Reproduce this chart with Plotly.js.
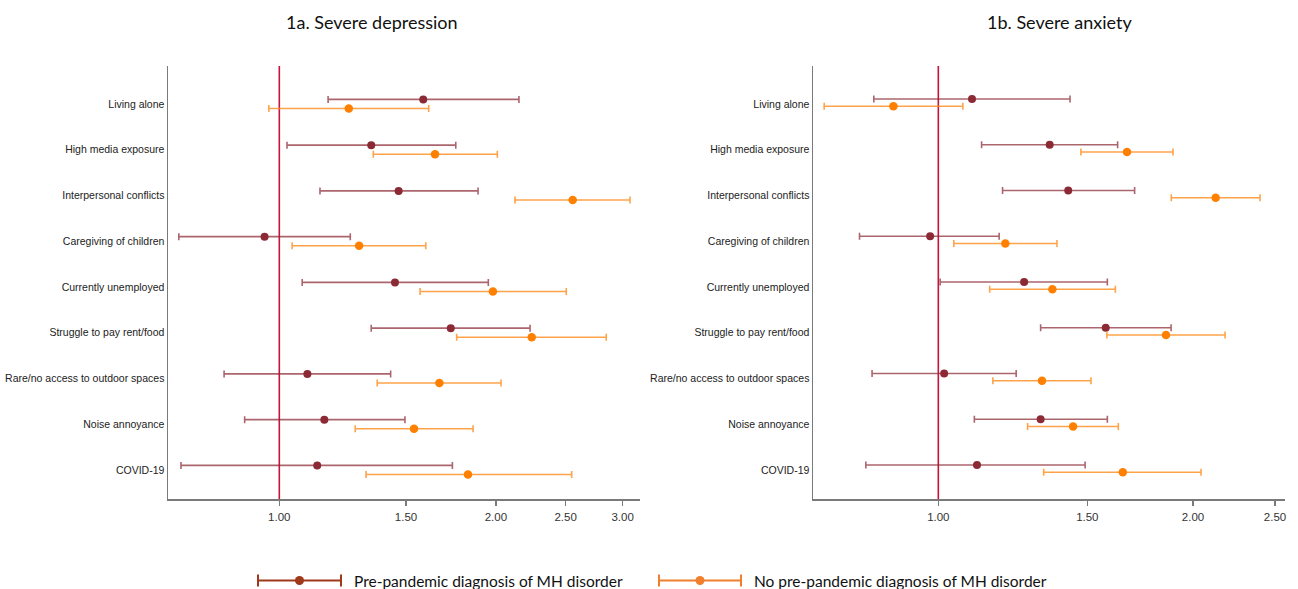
<!DOCTYPE html>
<html>
<head>
<meta charset="utf-8">
<script src="https://cdn.plot.ly/plotly-3.0.1.min.js"></script>
<style>html,body{margin:0;padding:0;background:#fff;}#chart{width:1298px;height:589px;}</style>
</head>
<body>
<div id="chart"></div>
<script>
// ---------- DATA ----------
const categories = ["Living alone","High media exposure","Interpersonal conflicts","Caregiving of children","Currently unemployed","Struggle to pay rent/food","Rare/no access to outdoor spaces","Noise annoyance","COVID-19"];

// 1a. Severe depression
const depPreOR  = [1.585,1.342,1.465,0.954,1.448,1.731,1.094,1.155,1.129];
const depPreLo  = [1.169,1.025,1.139,0.725,1.076,1.342,0.838,0.895,0.730];
const depPreHi  = [2.153,1.759,1.889,1.255,1.952,2.231,1.428,1.495,1.740];
const depNoOR   = [1.249,1.646,2.557,1.291,1.981,2.243,1.669,1.539,1.829];
const depNoLo   = [0.967,1.351,2.126,1.042,1.569,1.764,1.368,1.275,1.320];
const depNoHi   = [1.613,2.009,3.072,1.598,2.505,2.847,2.033,1.859,2.549];

// 1b. Severe anxiety
const anxPreOR  = [1.096,1.354,1.424,0.978,1.263,1.577,1.016,1.321,1.111];
const anxPreLo  = [0.839,1.125,1.191,0.807,1.005,1.321,0.835,1.103,0.821];
const anxPreHi  = [1.431,1.629,1.706,1.180,1.584,1.884,1.236,1.584,1.491];
const anxNoOR   = [0.885,1.671,2.127,1.200,1.364,1.858,1.326,1.443,1.652];
const anxNoLo   = [0.733,1.474,1.885,1.043,1.150,1.582,1.160,1.275,1.332];
const anxNoHi   = [1.069,1.894,2.400,1.381,1.619,2.182,1.515,1.632,2.044];

const tickValsL = [1,1.5,2,2.5,3];
const tickTextL = ["1.00","1.50","2.00","2.50","3.00"];
const tickValsR = [1,1.5,2,2.5];
const tickTextR = ["1.00","1.50","2.00","2.50"];

const titleL = "1a. Severe depression";
const titleR = "1b. Severe anxiety";
const legendPre = "Pre-pandemic diagnosis of MH disorder";
const legendNo  = "No pre-pandemic diagnosis of MH disorder";

// ---------- STYLE ----------
const W = 1298, H = 589;
const preMarker = '#8B2A35', preErr = 'rgba(139,42,53,0.72)';
const noMarker = '#FF8000', noErr = 'rgba(255,140,30,0.8)';
const refColor = '#C8143C';
const axisColor = '#7a7a7a';

function px2x(p){return p/W;}
function px2y(p){return (H-p)/H;}

function makeTrace(or, lo, hi, off, xa, ya, mcol, ecol, msize){
  return {
    type:'scatter', mode:'markers',
    x: or, y: or.map((_,i)=>i+off),
    xaxis: xa, yaxis: ya,
    marker:{color:mcol, size:msize},
    error_x:{type:'data', symmetric:false,
      array: hi.map((h,i)=>h-or[i]),
      arrayminus: lo.map((l,i)=>or[i]-l),
      color: ecol, thickness:1.6, width:3.5},
    showlegend:false, hoverinfo:'x+y'
  };
}

const traces = [
  makeTrace(depPreOR, depPreLo, depPreHi, -0.1, 'x','y', preMarker, preErr, 8),
  makeTrace(depNoOR, depNoLo, depNoHi, 0.1, 'x','y', noMarker, noErr, 8.5),
  makeTrace(anxPreOR, anxPreLo, anxPreHi, -0.11, 'x2','y2', preMarker, preErr, 8),
  makeTrace(anxNoOR, anxNoLo, anxNoHi, 0.05, 'x2','y2', noMarker, noErr, 8.5)
];

const yDom = [px2y(499), px2y(66)];
const yRange = [8.634, -0.83];
const catIdx = categories.map((_,i)=>i);

const xCommon = {
  type:'log', showgrid:false, zeroline:false,
  showline:true, linecolor:axisColor, linewidth:1.5,
  ticks:'outside', ticklen:5, tickcolor:axisColor, tickwidth:1.2,
  ticklabelstandoff:2,
  tickfont:{family:'Liberation Sans, Arial, sans-serif', size:11.5, color:'#333'}
};
const yCommon = {
  range:yRange, domain:yDom, showgrid:false, zeroline:false,
  showline:true, linecolor:axisColor, linewidth:1.5,
  ticks:'', tickvals:catIdx, ticktext:categories,
  tickfont:{family:'Liberation Sans, Arial, sans-serif', size:10.5, color:'#222'}
};

const layout = {
  width:W, height:H,
  margin:{l:0,r:0,t:0,b:0},
  paper_bgcolor:'#fff', plot_bgcolor:'#fff',
  showlegend:false,
  xaxis: Object.assign({}, xCommon, {domain:[px2x(168), px2x(640)], range:[-0.1547,0.5013], tickvals:tickValsL, ticktext:tickTextL, anchor:'y'}),
  yaxis: Object.assign({}, yCommon, {anchor:'x'}),
  xaxis2: Object.assign({}, xCommon, {domain:[px2x(813), px2x(1285)], range:[-0.1481,0.4097], tickvals:tickValsR, ticktext:tickTextR, anchor:'y2'}),
  yaxis2: Object.assign({}, yCommon, {anchor:'x2'}),
  shapes:[
    {type:'line', xref:'x', yref:'paper', x0:1, x1:1, y0:yDom[0], y1:yDom[1], line:{color:refColor, width:1.6}, layer:'below'},
    {type:'line', xref:'x2', yref:'paper', x0:1, x1:1, y0:yDom[0], y1:yDom[1], line:{color:refColor, width:1.6}, layer:'below'}
  ],
  annotations:[
    {text:titleL, xref:'paper', yref:'paper', x:px2x(372), y:px2y(22), xanchor:'center', yanchor:'middle', showarrow:false, font:{family:'Lato, Open Sans, sans-serif', size:18, color:'#111'}},
    {text:titleR, xref:'paper', yref:'paper', x:px2x(1059), y:px2y(22), xanchor:'center', yanchor:'middle', showarrow:false, font:{family:'Lato, Open Sans, sans-serif', size:18, color:'#111'}}
  ]
};

// custom legend (line with caps + marker)
const legItems = [
  {x0:258, x1:341, xm:299.5, tx:352, col:'#A0381A', text:legendPre},
  {x0:659, x1:741, xm:700, tx:752, col:'#F0802E', text:legendNo}
];
const ly = 580.5;
legItems.forEach(it=>{
  layout.shapes.push({type:'line', xref:'paper', yref:'paper', x0:px2x(it.x0), x1:px2x(it.x1), y0:px2y(ly), y1:px2y(ly), line:{color:it.col, width:2}});
  layout.shapes.push({type:'line', xref:'paper', yref:'paper', x0:px2x(it.x0), x1:px2x(it.x0), y0:px2y(ly-6), y1:px2y(ly+6), line:{color:it.col, width:2}});
  layout.shapes.push({type:'line', xref:'paper', yref:'paper', x0:px2x(it.x1), x1:px2x(it.x1), y0:px2y(ly-6), y1:px2y(ly+6), line:{color:it.col, width:2}});
  layout.shapes.push({type:'circle', xref:'paper', yref:'paper', x0:px2x(it.xm-4.5), x1:px2x(it.xm+4.5), y0:px2y(ly+4.5), y1:px2y(ly-4.5), fillcolor:it.col, line:{color:it.col, width:0}});
  layout.annotations.push({text:it.text, xref:'paper', yref:'paper', x:px2x(it.tx), y:px2y(ly), xanchor:'left', yanchor:'middle', showarrow:false, font:{family:'Lato, Open Sans, sans-serif', size:15.5, color:'#111'}});
});

Plotly.newPlot('chart', traces, layout, {displayModeBar:false, staticPlot:true});
</script>
</body>
</html>
